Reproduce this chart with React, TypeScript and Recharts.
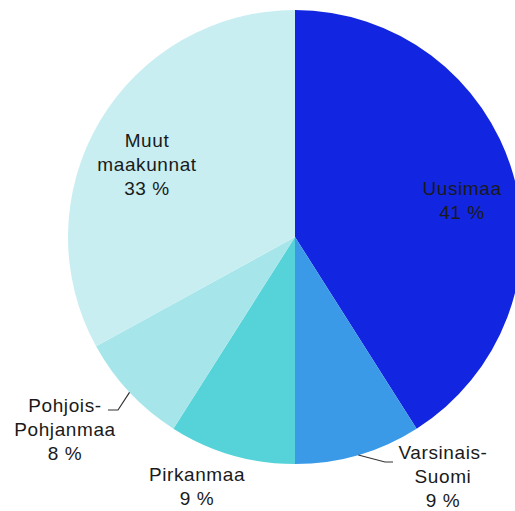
import { PieChart, Pie, Cell } from "recharts";

const regions = ["Uusimaa", "Varsinais-Suomi", "Pirkanmaa", "Pohjois-Pohjanmaa", "Muut maakunnat"];
const shares = [41, 9, 9, 8, 33];
const labelLines = [
  ["Uusimaa"],
  ["Varsinais-", "Suomi"],
  ["Pirkanmaa"],
  ["Pohjois-", "Pohjanmaa"],
  ["Muut", "maakunnat"],
];
const colors = ["#1226e2", "#3a9ae8", "#55d3d9", "#a6e6ea", "#c8eef2"];

// label block centre relative to pie centre, optional elbow leader line
const labelLayout = [
  { dx: 167, dy: -37 },
  { dx: 148, dy: 239, elbow: [90, 225], end: [98, 225] },
  { dx: -98, dy: 249 },
  { dx: -230, dy: 192, elbow: [-177, 173], end: [-187, 173] },
  { dx: -148, dy: -73 },
];

const data = regions.map((name, i) => ({ name, value: shares[i] }));

const RADIAN = Math.PI / 180;
const LINE_H = 24;

function renderLabel(props: any) {
  const { cx, cy, midAngle, outerRadius, index } = props;
  const layout = labelLayout[index];
  const lines = [...labelLines[index], `${shares[index]} %`];
  const x = cx + layout.dx;
  const y0 = cy + layout.dy - ((lines.length - 1) * LINE_H) / 2;

  let leader = null;
  if (layout.elbow) {
    const sx = cx + outerRadius * Math.cos(-midAngle * RADIAN);
    const sy = cy + outerRadius * Math.sin(-midAngle * RADIAN);
    const pts = `${sx},${sy} ${cx + layout.elbow[0]},${cy + layout.elbow[1]} ${cx + layout.end[0]},${cy + layout.end[1]}`;
    leader = <polyline points={pts} fill="none" stroke="#333" strokeWidth={1.2} />;
  }

  return (
    <g>
      {leader}
      <text
        x={x}
        y={y0}
        textAnchor="middle"
        dominantBaseline="central"
        fill="#1a1a1a"
        fontSize={19}
        letterSpacing={0.6}
        fontFamily="Liberation Sans, Arial, sans-serif"
      >
        {lines.map((t, i) => (
          <tspan key={i} x={x} y={y0 + i * LINE_H}>
            {t}
          </tspan>
        ))}
      </text>
    </g>
  );
}

export default function App() {
  return (
    <div style={{ position: "absolute", left: 0, top: 0, background: "#fff" }}>
      <PieChart width={515} height={511} margin={{ top: 0, right: 0, bottom: 0, left: 0 }}>
        <Pie
          data={data}
          dataKey="value"
          nameKey="name"
          cx={295}
          cy={237}
          outerRadius={227}
          startAngle={90}
          endAngle={-270}
          stroke="none"
          label={renderLabel}
          labelLine={false}
          isAnimationActive={false}
        >
          {data.map((d, i) => (
            <Cell key={d.name} fill={colors[i]} />
          ))}
        </Pie>
      </PieChart>
    </div>
  );
}
